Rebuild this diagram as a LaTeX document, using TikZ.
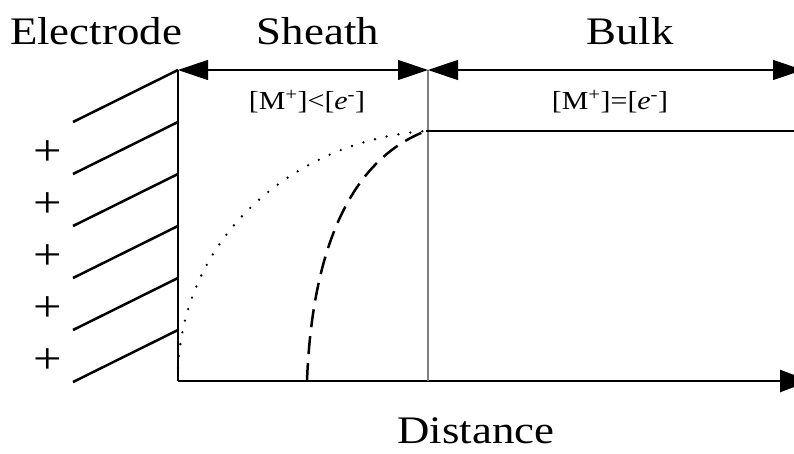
\documentclass[tikz,border=0pt]{standalone}
\usepackage{fontspec}
\setmainfont[FakeStretch=1.15]{Liberation Serif}
\usetikzlibrary{arrows.meta}

\begin{document}
\begin{tikzpicture}[
    x=1pt, y=-1pt,
    big/.style = {font=\fontsize{39}{41}\selectfont, inner sep=0pt, anchor=base},
    small/.style = {font=\fontsize{26}{28}\selectfont, inner sep=0pt, anchor=base},
    wall/.style = {line width=2.5pt},
    span/.style = {line width=1.2pt, {Triangle[length=30pt,width=20pt]}-{Triangle[length=30pt,width=20pt]}},
    ionfront/.style = {line width=2.6pt, line cap=round, dash pattern=on 0pt off 12pt},
    elecfront/.style = {line width=2.5pt, dash pattern=on 18pt off 9pt}
]

    % Cadre de l'image
    \clip (0,0) rectangle (794,454);

    % Points de référence
    \coordinate (O) at (178,381);
    \coordinate (top) at (178,70);
    \coordinate (edgetop) at (428,70);
    \coordinate (edgebot) at (428,381);
    \coordinate (bulkend) at (803,70);
    \coordinate (xend) at (810,381);
    \coordinate (ionstart) at (178,368);
    \coordinate (elecstart) at (307,381);
    \coordinate (meet) at (426,131);
    \coordinate (flatend) at (800,131);

    % Titres
    \node[big] (electrode) at (96,45) {Electrode};
    \node[big] (sheath) at (318,45) {Sheath};
    \node[big] (bulk) at (630,45) {Bulk};
    \node[big] (distance) at (476,443) {Distance};
    \node[small] (sheathlbl) at (307,110) {[M\textsuperscript{+}]<[\textit{e}\textsuperscript{-}]};
    \node[small] (bulklbl) at (610,110) {[M\textsuperscript{+}]=[\textit{e}\textsuperscript{-}]};

    % Électrode hachurée
    \foreach \i in {0,...,5}
        \draw[wall] (73,122+52*\i) -- (178,70+52*\i);
    \foreach \i in {0,...,4}
        \node[font=\fontsize{44}{46}\selectfont, inner sep=0pt] (plus\i) at (48,153+52*\i) {+};

    % Axes
    \draw[wall] (top) -- (O);
    \draw[wall, -{Triangle[length=30pt,width=22pt]}] (O) -- (xend);
    \draw[line width=2.2pt, gray] (edgetop) -- (edgebot);

    % Flèches des zones
    \draw[span] (top) -- (edgetop);
    \draw[span] (edgetop) -- (bulkend);

    % Profils
    \draw[ionfront] (ionstart) .. controls (185,230) and (300,140) .. (meet);
    \draw[elecfront] (elecstart) .. controls (312,250) and (350,160) .. (meet);
    \draw[wall] (meet) -- (flatend);

\end{tikzpicture}
\end{document}
